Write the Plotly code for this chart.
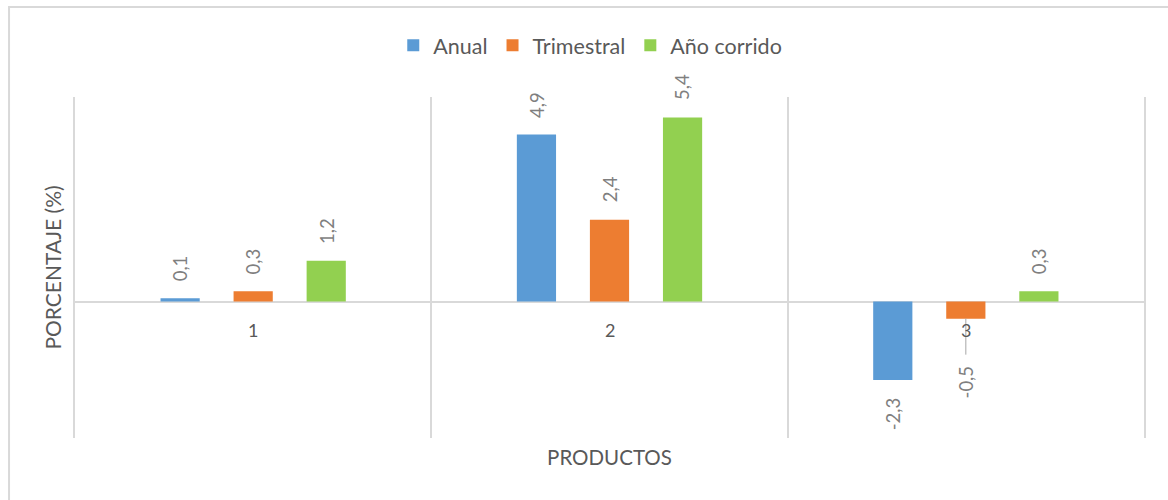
import plotly.graph_objects as go

# Variación porcentual por producto
categories = ["1", "2", "3"]
anual = [0.1, 4.9, -2.3]
trimestral = [0.3, 2.4, -0.5]
anio_corrido = [1.2, 5.4, 0.3]

series_names = ["Anual", "Trimestral", "Año corrido"]
series_values = [anual, trimestral, anio_corrido]
series_colors = ["#5B9BD5", "#ED7D31", "#92D050"]

FONT = "Lato, Open Sans, sans-serif"
GRID = "#d9d9d9"
TEXT = "#595959"
LABEL = "#7f7f7f"

BAR_W = 0.11          # bar width in category units
SLOT = 0.205          # distance between bar centres within a group
LABEL_GAP = 15        # px between bar end and its value label

# leader line for labels moved away from their bar: (series, category) -> px offset
leaders = {(1, 2): 63}


def fmt(v):
    return f"{v:.1f}".replace(".", ",")


fig = go.Figure()
xs = list(range(len(categories)))
annotations = []

for s, (name, vals, color) in enumerate(zip(series_names, series_values, series_colors)):
    shift = (s - 1) * SLOT
    fig.add_trace(go.Bar(
        x=xs, y=vals, name=name,
        width=BAR_W, offset=shift - BAR_W / 2,
        marker=dict(color=color, line=dict(width=0)),
        hoverinfo="skip",
    ))
    for i, v in enumerate(vals):
        common = dict(
            x=i + shift, y=v, xref="x", yref="y",
            text=fmt(v), textangle=-90,
            font=dict(family=FONT, size=18.5, color=LABEL),
        )
        if (s, i) in leaders:
            annotations.append(dict(
                **common, showarrow=True, arrowhead=0, arrowwidth=1,
                arrowcolor="#a6a6a6", ax=0, ay=leaders[(s, i)], standoff=0,
                startstandoff=9,
            ))
        elif v >= 0:
            annotations.append(dict(**common, showarrow=False,
                                    yanchor="bottom", yshift=LABEL_GAP))
        else:
            annotations.append(dict(**common, showarrow=False,
                                    yanchor="top", yshift=-LABEL_GAP))

# category labels sitting next to the zero line
for i, c in enumerate(categories):
    annotations.append(dict(
        x=i, y=0, xref="x", yref="y", text=c, showarrow=False,
        yanchor="middle", yshift=-28,
        font=dict(family=FONT, size=18, color=TEXT),
    ))

fig.update_layout(
    width=1168, height=500,
    margin=dict(l=75, r=24, t=97, b=62),
    paper_bgcolor="white", plot_bgcolor="white",
    barmode="overlay",
    font=dict(family=FONT, color=TEXT),
    showlegend=True,
    legend=dict(
        orientation="h", x=0.482, xanchor="center",
        y=1.152, yanchor="middle",
        font=dict(family=FONT, size=21.5, color=TEXT),
        traceorder="normal",
    ),
    xaxis=dict(
        range=[-0.5, len(categories) - 0.5],
        tickmode="linear", tick0=-0.5, dtick=1,
        showgrid=True, gridcolor=GRID, gridwidth=1.5,
        showticklabels=False, ticks="", zeroline=False, showline=False,
        title=dict(text="PRODUCTOS", standoff=12,
                   font=dict(family=FONT, size=20.5, color=TEXT)),
    ),
    yaxis=dict(
        range=[-4, 6],
        showgrid=False, showticklabels=False, ticks="",
        zeroline=True, zerolinecolor=GRID, zerolinewidth=1.5,
        showline=True, mirror=True, linecolor=GRID, linewidth=1.5,
        title=dict(text="PORCENTAJE (%)", standoff=6,
                   font=dict(family=FONT, size=21, color=TEXT)),
    ),
    annotations=annotations,
    shapes=[dict(
        type="rect", xref="paper", yref="paper",
        x0=-0.0617, x1=1.2, y0=-0.5, y1=1.264,
        line=dict(color=GRID, width=2), fillcolor="rgba(0,0,0,0)",
        layer="below",
    )],
)

fig.write_html("out.html")
